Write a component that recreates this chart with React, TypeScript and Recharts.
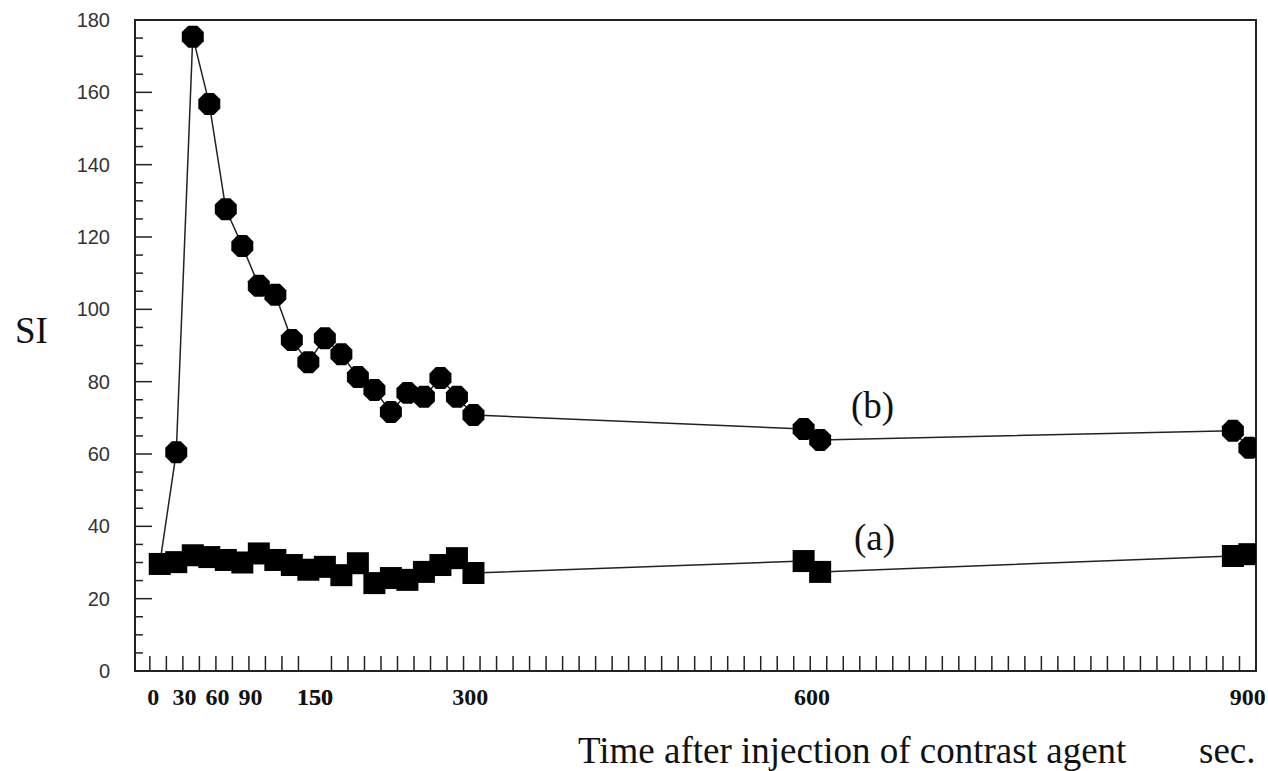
import React from 'react';
import { LineChart, Line, XAxis, YAxis, ReferenceArea } from 'recharts';

// slot = position on the (non-linear) time axis, one slot per scan
const slots = [0, 1, 2, 3, 4, 5, 6, 7, 8, 9, 10, 11, 12, 13, 14, 15, 16, 17, 18, 19, 39, 40, 65, 66];

// (a) squares
const seriesA = [29.6, 30.1, 32, 31.5, 30.7, 30, 32.5, 30.7, 29.3, 28, 28.8, 26.5, 29.8, 24.3, 25.7, 25.2, 27.4, 29.3, 31.2, 27.1, 30.4, 27.4, 31.8, 32.3];
// (b) circles
const seriesB = [29.6, 60.5, 175.4, 156.8, 127.7, 117.5, 106.5, 104, 91.5, 85.4, 92, 87.6, 81.3, 77.7, 71.6, 76.9, 75.8, 81, 75.8, 70.8, 66.9, 63.9, 66.4, 61.7];

const xLabels = ['0', '30', '60', '90', '150', '300', '600', '900'];
const xLabelSlots = [-0.4, 1.5, 3.5, 5.5, 9.4, 18.8, 39.5, 65.9];

const yTicks = Array.from({ length: 37 }, (_, i) => i * 5);
const xMinorTicks = Array.from({ length: 67 }, (_, i) => i - 0.6);

const data = slots.map((s, i) => ({ slot: s, a: seriesA[i], b: seriesB[i] }));

const W = 1268;
const H = 771;
const PLOT_LEFT = 135;
const PLOT_TOP = 20;
const PLOT_BOTTOM = 671;
const INK = '#222';

const labelMap = new Map(xLabelSlots.map((v, i) => [v, xLabels[i]]));

const XTick = (props: any) => {
  const { x, payload } = props;
  const lbl = labelMap.get(payload.value);
  if (lbl !== undefined) {
    return (
      <text x={x} y={697} textAnchor="middle" dominantBaseline="central"
        fontFamily="'Liberation Serif', serif" fontWeight="bold" fontSize={24} fill="#111">
        {lbl}
      </text>
    );
  }
  return <line x1={x} x2={x} y1={PLOT_BOTTOM} y2={PLOT_BOTTOM - 15} stroke={INK} strokeWidth={1.5} />;
};

const YTick = (props: any) => {
  const { y, payload } = props;
  const major = payload.value % 20 === 0;
  return (
    <g>
      {payload.value > 0 && payload.value < 180 && (
        <line x1={PLOT_LEFT} x2={PLOT_LEFT + (major ? 17 : 8)} y1={y} y2={y} stroke={INK} strokeWidth={1.5} />
      )}
      {major && (
        <text x={110} y={y} textAnchor="end" dominantBaseline="central"
          fontFamily="'Liberation Sans', Arial, sans-serif" fontSize={20} fill="#333">
          {payload.value}
        </text>
      )}
    </g>
  );
};

const SquareDot = (props: any) => {
  const { cx, cy } = props;
  if (cx == null || cy == null) return null;
  return <rect x={cx - 11} y={cy - 11} width={22} height={22} fill="#000" />;
};

// the original markers are low-res octagons rather than true circles
const CircleDot = (props: any) => {
  const { cx, cy, index } = props;
  if (cx == null || cy == null || index === 0) return null;
  const r = 11.9;
  const pts = [0, 1, 2, 3, 4, 5, 6, 7]
    .map((k) => {
      const t = ((22.5 + k * 45) * Math.PI) / 180;
      return `${cx + r * Math.cos(t)},${cy + r * Math.sin(t)}`;
    })
    .join(' ');
  return <polygon points={pts} fill="#000" />;
};

const serif = "'Liberation Serif', 'Times New Roman', serif";

export default function App() {
  return (
    <div style={{ position: 'absolute', left: 0, top: 0, width: W, height: H, background: '#fff' }}>
      <LineChart width={W} height={H} data={data} margin={{ top: PLOT_TOP, right: 12, left: 0, bottom: 0 }}>
        <XAxis
          type="number"
          dataKey="slot"
          domain={[-1.5, 66.4]}
          allowDataOverflow
          ticks={[...xMinorTicks, ...xLabelSlots]}
          interval={0}
          tick={<XTick />}
          tickLine={false}
          axisLine={{ stroke: INK, strokeWidth: 2 }}
          height={100}
        />
        <YAxis
          type="number"
          domain={[0, 180]}
          ticks={yTicks}
          interval={0}
          tick={<YTick />}
          tickLine={false}
          axisLine={{ stroke: INK, strokeWidth: 2 }}
          width={PLOT_LEFT}
        />
        <ReferenceArea x1={-1.5} x2={66.4} y1={0} y2={180} fill="none" stroke={INK} strokeWidth={2} />
        <Line type="linear" dataKey="b" stroke={INK} strokeWidth={1.5} dot={<CircleDot />} activeDot={false} isAnimationActive={false} />
        <Line type="linear" dataKey="a" stroke={INK} strokeWidth={1.5} dot={<SquareDot />} activeDot={false} isAnimationActive={false} />
      </LineChart>
      <svg width={W} height={H} style={{ position: 'absolute', left: 0, top: 0, pointerEvents: 'none' }}>
        <g fontFamily={serif} fontSize={37} fill="#111">
          <text x={15} y={343}>SI</text>
          <text x={851} y={418}>(b)</text>
          <text x={854} y={550}>(a)</text>
          <text x={578} y={763}>Time after injection of contrast agent</text>
          <text x={1199} y={763}>sec.</text>
        </g>
      </svg>
    </div>
  );
}
